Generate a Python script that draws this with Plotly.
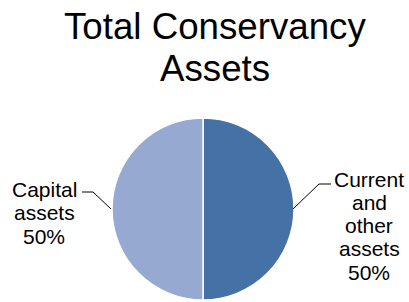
import plotly.graph_objects as go

# ---- data ----
title_lines = ["Total Conservancy", "Assets"]
slice_labels = ["Current and other assets", "Capital assets"]
slice_values = [50, 50]
label_lines = [["Current", "and", "other", "assets"], ["Capital", "assets"]]
slice_colors = ["#4571A6", "#95A9D1"]

W, H = 409, 302
FONT = "Liberation Sans, Arial, sans-serif"

def px(x):
    return x / W

def py(y):
    return 1 - y / H

fig = go.Figure()
fig.add_trace(go.Pie(
    labels=slice_labels,
    values=slice_values,
    sort=False,
    direction="clockwise",
    rotation=0,
    textinfo="none",
    hoverinfo="label+percent",
    marker=dict(colors=slice_colors, line=dict(color="white", width=1.5)),
    domain=dict(x=[px(112), px(294)], y=[py(300), py(118)]),
    showlegend=False,
))

annotations = []
# title, one annotation per line
for txt, base in zip(title_lines, [38, 81]):
    annotations.append(dict(
        text=txt, x=px(215), y=py(base - 12), xref="paper", yref="paper",
        xanchor="center", yanchor="middle", showarrow=False,
        font=dict(family=FONT, size=36.7, color="black")))

total = sum(slice_values)
# label positions (centre x, first baseline, line step)
label_pos = [(369, 186, 23.3), (44, 196, 23.5)]
for lines, v, (cx, b0, step) in zip(label_lines, slice_values, label_pos):
    all_lines = lines + [f"{round(100 * v / total)}%"]
    for i, t in enumerate(all_lines):
        annotations.append(dict(
            text=t, x=px(cx), y=py(b0 + i * step - 7), xref="paper", yref="paper",
            xanchor="center", yanchor="middle", showarrow=False,
            font=dict(family=FONT, size=21, color="black")))

shapes = [
    dict(type="path", xref="paper", yref="paper",
         path=f"M {px(82)} {py(192)} L {px(93)} {py(192)} L {px(111)} {py(209)}",
         line=dict(color="black", width=1)),
    dict(type="path", xref="paper", yref="paper",
         path=f"M {px(293)} {py(209)} L {px(319)} {py(184)} L {px(331)} {py(184)}",
         line=dict(color="black", width=1)),
]

fig.update_layout(
    width=W, height=H,
    margin=dict(l=0, r=0, t=0, b=0),
    paper_bgcolor="white", plot_bgcolor="white",
    annotations=annotations, shapes=shapes,
)

fig.write_html("out.html",
               config={"displayModeBar": False},
               post_script="document.body.style.margin='0';document.body.style.overflow='hidden';")
